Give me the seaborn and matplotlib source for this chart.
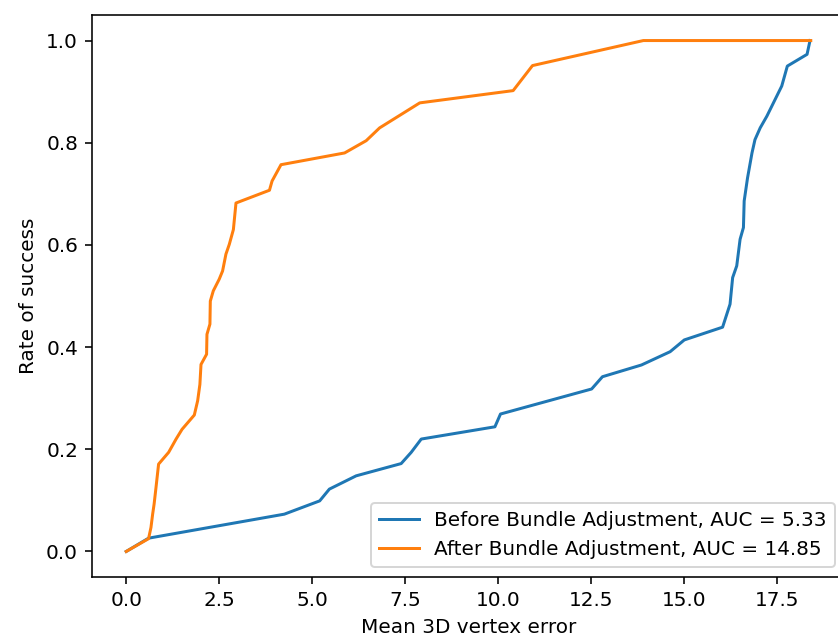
import matplotlib
matplotlib.use("Agg")
import matplotlib.pyplot as plt
import seaborn as sns
import pandas as pd

# Before Bundle Adjustment (blue)
before_x = [0.0, 0.60, 4.25, 5.20, 5.46, 6.18, 7.39, 7.66, 7.93, 9.91, 10.06,
            12.51, 12.80, 13.85, 14.62, 15.00, 16.03, 16.23, 16.30, 16.41, 16.50,
            16.59, 16.61, 16.70, 16.82, 16.90, 17.04, 17.22, 17.62, 17.77, 18.30, 18.38]
before_y = [0.0, 0.026, 0.073, 0.099, 0.122, 0.148, 0.172, 0.194, 0.220, 0.244, 0.269,
            0.318, 0.342, 0.365, 0.391, 0.414, 0.439, 0.484, 0.536, 0.559, 0.611,
            0.634, 0.686, 0.731, 0.780, 0.806, 0.829, 0.852, 0.911, 0.950, 0.973, 1.0]

# After Bundle Adjustment (orange)
after_x = [0.0, 0.60, 0.665, 0.71, 0.75, 0.80, 0.87, 1.14, 1.34, 1.50, 1.83, 1.92,
           1.98, 2.01, 2.16, 2.17, 2.25, 2.26, 2.34, 2.50, 2.59, 2.68, 2.77, 2.88,
           2.95, 3.85, 3.92, 4.16, 5.87, 6.45, 6.81, 7.89, 10.40, 10.92, 13.90, 18.40]
after_y = [0.0, 0.025, 0.047, 0.073, 0.093, 0.125, 0.171, 0.194, 0.220, 0.239, 0.267, 0.295,
           0.327, 0.366, 0.386, 0.425, 0.445, 0.490, 0.510, 0.533, 0.549, 0.582, 0.601, 0.630,
           0.682, 0.707, 0.725, 0.757, 0.780, 0.804, 0.829, 0.878, 0.902, 0.951, 1.0, 1.0]

labels = ["Before Bundle Adjustment, AUC = 5.33", "After Bundle Adjustment, AUC = 14.85"]
colors = ["#1f77b4", "#ff7f0e"]

df = pd.concat([
    pd.DataFrame({"x": before_x, "y": before_y, "series": labels[0]}),
    pd.DataFrame({"x": after_x, "y": after_y, "series": labels[1]}),
], ignore_index=True)

dpi = 144
fig = plt.figure(figsize=(838 / dpi, 644 / dpi), dpi=dpi)
ax = fig.add_axes([92 / 838, 67 / 644, (845 - 92) / 838, (577 - 15) / 644])

sns.lineplot(data=df, x="x", y="y", hue="series", palette=colors,
             estimator=None, sort=False, linewidth=1.5, ax=ax)

ax.set_xlabel("Mean 3D vertex error")
ax.set_ylabel("Rate of success")
ax.legend(loc="lower right")

fig.savefig("out.png", dpi=dpi)
